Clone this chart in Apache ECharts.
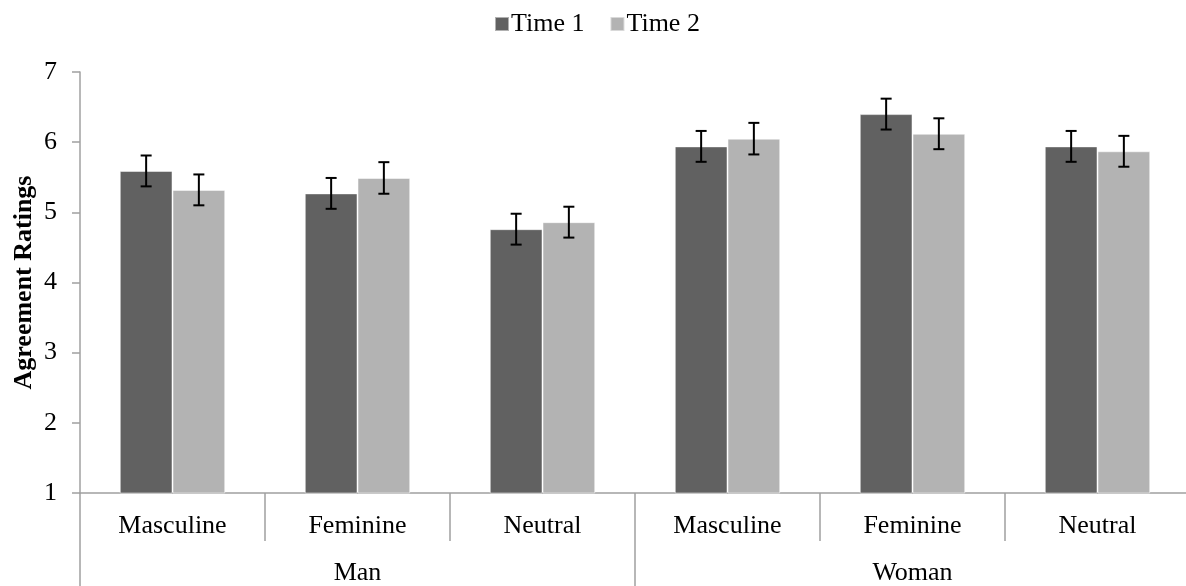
<!DOCTYPE html>
<html>
<head>
<meta charset="utf-8">
<script src="https://cdn.jsdelivr.net/npm/echarts@6/dist/echarts.min.js"></script>
<style>
html,body{margin:0;padding:0;background:#fff;}
#chart{width:1186px;height:586px;}
</style>
</head>
<body>
<div id="chart"></div>
<script>
var categories = ["Masculine","Feminine","Neutral","Masculine","Feminine","Neutral"];
var groups = ["Man","Woman"];
var seriesNames = ["Time 1","Time 2"];
var time1 = [5.59, 5.27, 4.76, 5.94, 6.40, 5.94];
var time2 = [5.32, 5.49, 4.86, 6.05, 6.12, 5.87];
var err1 = [0.22, 0.22, 0.22, 0.22, 0.22, 0.22];
var err2 = [0.22, 0.225, 0.22, 0.225, 0.22, 0.22];
var yTicks = [1,2,3,4,5,6,7];

var FONT = "'Liberation Serif', 'Times New Roman', serif";
var FS = 26;
var GAP = 0.43;

function errData(vals, errs){
  return vals.map(function(v,i){ return [i, v - errs[i], v + errs[i]]; });
}
function makeErr(sign){
  return function(params, api){
    var idx = api.value(0);
    var lo = api.coord([idx, api.value(1)]);
    var hi = api.coord([idx, api.value(2)]);
    var bw = api.size([1,0])[0] * (1 - GAP) / 2;
    var x = lo[0] + sign * bw / 2;
    var cap = 5.5;
    var st = {stroke:'#000', lineWidth:2};
    return {type:'group', children:[
      {type:'line', shape:{x1:x,y1:lo[1],x2:x,y2:hi[1]}, style:st},
      {type:'line', shape:{x1:x-cap,y1:hi[1],x2:x+cap,y2:hi[1]}, style:st},
      {type:'line', shape:{x1:x-cap,y1:lo[1],x2:x+cap,y2:lo[1]}, style:st}
    ]};
  };
}

var chart = echarts.init(document.getElementById('chart'));
chart.setOption({
  animation:false,
  backgroundColor:'#fff',
  textStyle:{fontFamily:FONT},
  legend:{
    top:6, left:489,
    itemWidth:14, itemHeight:14, itemGap:25,
    icon:'rect',
    textStyle:{fontFamily:FONT, fontSize:FS, color:'#000', padding:[0,0,0,-3]},
    data:seriesNames
  },
  grid:{left:80, right:-4, top:72, bottom:93, containLabel:false, outerBoundsMode:'none'},
  xAxis:[{
    type:'category', data:categories, position:'bottom',
    axisLine:{show:true, lineStyle:{color:'#a0a0a0', width:1.5}},
    axisTick:{show:true, interval:0, length:48, lineStyle:{color:'#a0a0a0', width:1.5}},
    axisLabel:{interval:0, margin:20, fontFamily:FONT, fontSize:FS, color:'#000'}
  },{
    type:'category', data:groups, position:'bottom',
    axisLine:{show:false},
    axisTick:{show:true, interval:0, length:94, lineStyle:{color:'#a0a0a0', width:1.5}},
    axisLabel:{interval:0, margin:67, fontFamily:FONT, fontSize:FS, color:'#000'}
  }],
  yAxis:{
    type:'value', min:1, max:7, interval:1,
    axisLine:{show:true, lineStyle:{color:'#a0a0a0', width:1.5}},
    axisTick:{show:true, length:8, lineStyle:{color:'#a0a0a0', width:1.5}},
    splitLine:{show:false},
    axisLabel:{margin:23, fontFamily:FONT, fontSize:FS, color:'#000',
      formatter:function(v){ return yTicks.indexOf(v) >= 0 ? String(v) : ''; }},
    name:'Agreement Ratings', nameLocation:'middle', nameRotate:90, nameGap:43,
    nameMoveOverlap:false,
    nameTextStyle:{fontFamily:FONT, fontSize:FS, fontWeight:'bold', color:'#000'}
  },
  series:[
    {name:seriesNames[0], type:'bar', data:time1, barGap:'0%', barCategoryGap:(GAP*100)+'%',
     itemStyle:{color:'#616161', borderColor:'rgba(255,255,255,0.5)', borderWidth:1}, z:2},
    {name:seriesNames[1], type:'bar', data:time2, barGap:'0%', barCategoryGap:(GAP*100)+'%',
     itemStyle:{color:'#b3b3b3', borderColor:'rgba(255,255,255,0.5)', borderWidth:1}, z:2},
    {type:'custom', renderItem:makeErr(-1), data:errData(time1, err1), encode:{x:0, y:[1,2]}, z:5, silent:true},
    {type:'custom', renderItem:makeErr(1), data:errData(time2, err2), encode:{x:0, y:[1,2]}, z:5, silent:true}
  ]
});
</script>
</body>
</html>
